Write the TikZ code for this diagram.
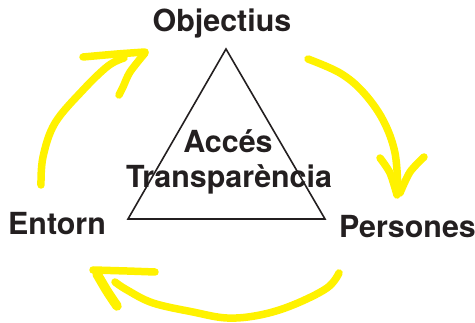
\documentclass[tikz,border=0pt]{standalone}
\usepackage{fontspec}
\setmainfont{TeX Gyre Heros}
\definecolor{ink}{HTML}{231F20}
\definecolor{marker}{HTML}{FFF200}
\tikzset{
  lab/.style={font=\fontsize{30.4}{34}\selectfont\bfseries, text=ink, inner sep=0pt, anchor=base},
  tri/.style={draw=ink, line width=1.6pt, line join=miter},
  pen/.style={draw=marker, line width=7.5pt, line cap=round, line join=round},
  thickpen/.style={pen, line width=9.5pt}
}
\begin{document}
\begin{tikzpicture}[x=1pt,y=-1pt]
\useasboundingbox (0,0) rectangle (475,323);
% hand-drawn yellow arrows
\draw[pen] plot[smooth,tension=0.6] coordinates {(41,185) (43,157) (55,123) (83,90) (108,66) (124,58)};
\draw[pen] plot[smooth,tension=0.5] coordinates {(83,57) (117,54) (145,52)};
\draw[pen] plot[smooth,tension=0.5] coordinates {(145,53) (130,72) (123,87) (119,95)};
\draw[pen] plot[smooth,tension=0.6] coordinates {(308,59) (340,73) (363,92) (383,120) (395,153) (398,193)};
\draw[pen] plot[smooth,tension=0.5] coordinates {(380,158) (390,173) (397,195)};
\draw[pen] plot[smooth,tension=0.5] coordinates {(424,157) (410,172) (400,193)};
\draw[pen] plot[smooth,tension=0.6] coordinates {(339,273) (327,288) (293,305) (260,315) (227,318) (193,312) (153,303) (127,290) (115,282)};
\draw[pen] plot[smooth,tension=0.5] coordinates {(93,270) (127,271) (155,272)};
\draw[thickpen] plot[smooth,tension=0.5] coordinates {(97,274) (107,291) (117,306)};
% triangle
\coordinate (apex) at (226,49);
\coordinate (bl) at (128,219);
\coordinate (br) at (325,219);
\draw[tri] (apex) -- (bl) -- (br) -- cycle;
% labels
\node[lab] (obj) at (222,32) {Objectius};
\node[lab] (ent) at (57,235) {Entorn};
\node[lab] (per) at (407.5,238) {Persones};
\node[lab] (acc) at (228,153) {Accés};
\node[lab] (tra) at (229,188) {Transparència};
\end{tikzpicture}
\end{document}
